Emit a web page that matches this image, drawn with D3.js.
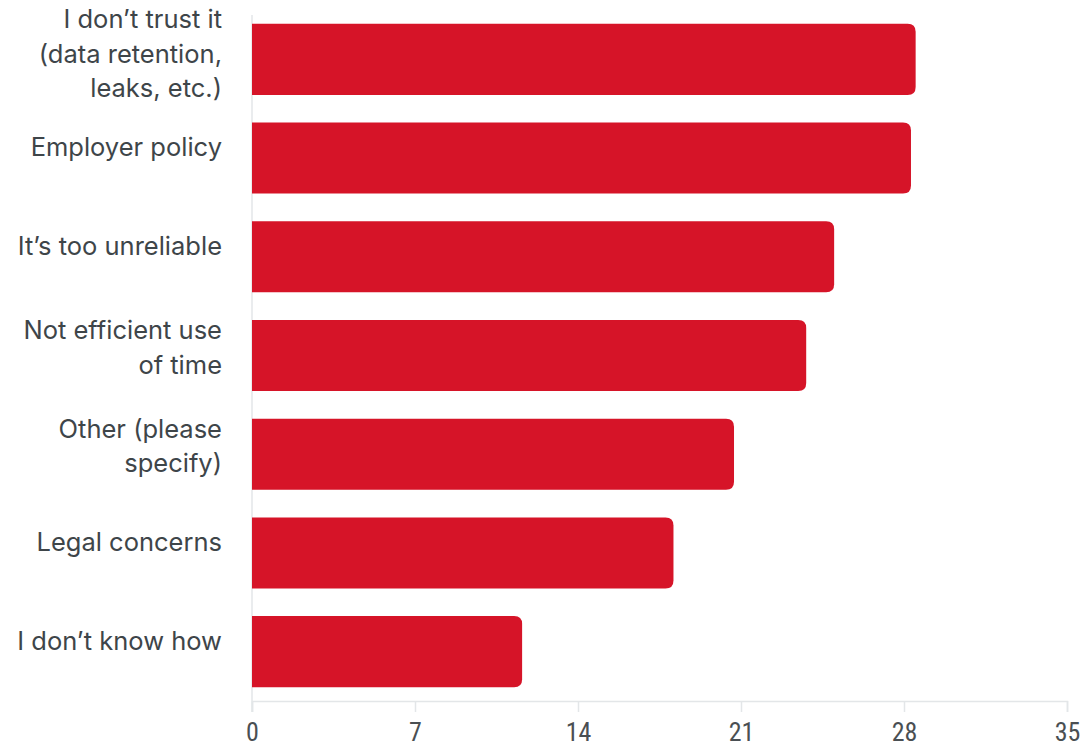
<!DOCTYPE html>
<html>
<head>
<meta charset="utf-8">
<script src="https://cdn.jsdelivr.net/npm/d3@7"></script>
<style>
  body { margin: 0; background: #fff; }
  svg { display: block; }
</style>
</head>
<body>
<div id="chart"></div>
<script>
  var w = 1087,
      h = 746;

  // reasons, top to bottom
  var categories = [
    "I don\u2019t trust it (data retention, leaks, etc.)",
    "Employer policy",
    "It\u2019s too unreliable",
    "Not efficient use of time",
    "Other (please specify)",
    "Legal concerns",
    "I don\u2019t know how"
  ];
  var values = [28.5, 28.3, 25.0, 23.8, 20.7, 18.1, 11.6];
  var ticks = [0, 7, 14, 21, 28, 35];

  // plot edges (note: "top" clashes with window.top)
  var plotL = 252, plotR = 1067, plotT = 10, plotB = 701;

  var svg = d3.select("#chart").append("svg")
      .attr("width", w)
      .attr("height", h);

  var x = d3.scaleLinear().domain([0, 35]).range([plotL, plotR]);
  var y = d3.scaleBand().domain(categories).range([plotT, plotB])
      .paddingInner(0.28).paddingOuter(0.14);

  // axis lines
  svg.append("line")
      .attr("x1", x(0)).attr("x2", x(0))
      .attr("y1", 15).attr("y2", plotB + 11)
      .attr("stroke", "#e3e6e8").attr("stroke-width", 1.5);

  var xAxis = svg.append("g")
      .attr("transform", "translate(0," + plotB + ")")
      .call(d3.axisBottom(x).tickValues(ticks).tickSize(11));
  xAxis.select(".domain").attr("stroke", "#e3e6e8").attr("stroke-width", 1.5);
  xAxis.selectAll(".tick line").attr("stroke", "#e3e6e8").attr("stroke-width", 1.5);
  xAxis.selectAll(".tick text")
      .attr("y", 40)
      .attr("dy", null)
      .attr("fill", "#4a4f53")
      .style("font-family", "'Liberation Sans Narrow', 'Roboto Condensed', sans-serif")
      .style("font-size", "26px");

  // bars with rounded right end
  var r = 8;
  function barPath(d, i) {
    var x0 = x(0), x1 = x(values[i]), y0 = y(d), y1 = y0 + y.bandwidth();
    return "M" + x0 + "," + y0 +
      "H" + (x1 - r) +
      "Q" + x1 + "," + y0 + " " + x1 + "," + (y0 + r) +
      "V" + (y1 - r) +
      "Q" + x1 + "," + y1 + " " + (x1 - r) + "," + y1 +
      "H" + x0 + "Z";
  }

  svg.selectAll("path.bar").data(categories)
    .enter().append("path")
      .attr("class", "bar")
      .attr("d", barPath)
      .attr("fill", "#d61428");

  // category labels, wrapped
  var lineH = 34.5, maxW = 216;
  var labels = svg.selectAll("text.cat").data(categories)
    .enter().append("text")
      .attr("class", "cat")
      .attr("text-anchor", "end")
      .attr("fill", "#3e4549")
      .style("font-family", "Inter, 'Open Sans', sans-serif")
      .style("font-size", "25.5px");

  labels.each(function(d) {
    var t = d3.select(this), words = d.split(" "), lines = [], cur = [];
    words.forEach(function(wd) {
      cur.push(wd);
      t.text(cur.join(" "));
      if (this.getComputedTextLength() > maxW && cur.length > 1) {
        cur.pop();
        lines.push(cur.join(" "));
        cur = [wd];
      }
    }, this);
    lines.push(cur.join(" "));
    t.text(null);
    var cy = y(d) + y.bandwidth() / 2;
    var first = cy - 2 - 14.5 * (lines.length - 1);
    lines.forEach(function(ln, k) {
      t.append("tspan").attr("x", 222).attr("y", first + k * lineH).text(ln);
    });
  });
</script>
</body>
</html>
